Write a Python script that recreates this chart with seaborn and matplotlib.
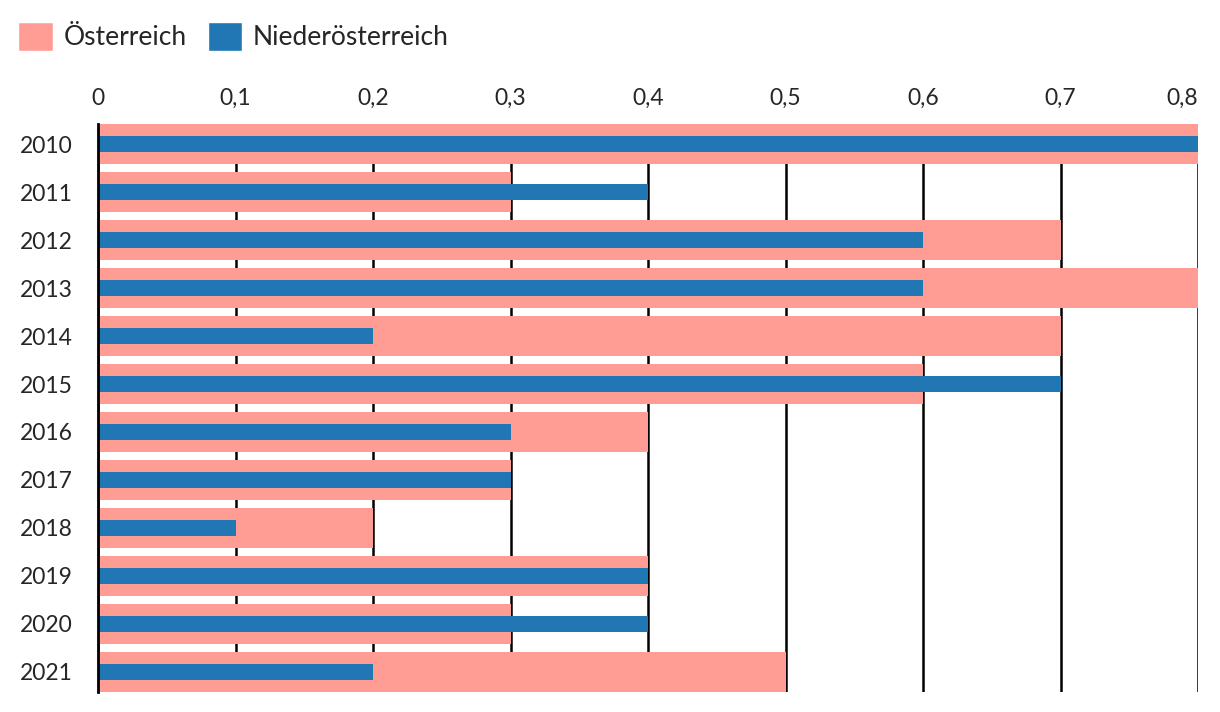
import matplotlib.pyplot as plt
import seaborn as sns
import pandas as pd
from matplotlib.patches import Patch
from matplotlib.ticker import FuncFormatter

years = ["2010", "2011", "2012", "2013", "2014", "2015",
         "2016", "2017", "2018", "2019", "2020", "2021"]
oesterreich = [0.8, 0.3, 0.7, 0.8, 0.7, 0.6, 0.4, 0.3, 0.2, 0.4, 0.3, 0.5]
niederoesterreich = [0.8, 0.4, 0.6, 0.6, 0.2, 0.7, 0.3, 0.3, 0.1, 0.4, 0.4, 0.2]
x_ticks = [0, 0.1, 0.2, 0.3, 0.4, 0.5, 0.6, 0.7, 0.8]

salmon = "#ff9d94"
blue = "#2077b4"

sns.set_style("white")
plt.rcParams["font.family"] = ["Lato", "DejaVu Sans"]

df = pd.DataFrame({"year": years, "at": oesterreich, "noe": niederoesterreich})

fig = plt.figure(figsize=(12.2, 7.12), dpi=100)
ax = fig.add_axes([98 / 1220, 1 - 692 / 712, 1100 / 1220, 568 / 712])

# wide salmon bars behind, narrow blue bars on top
sns.barplot(data=df, x="at", y="year", orient="h", color=salmon,
            width=0.833, saturation=1, linewidth=0, ax=ax, zorder=2)
sns.barplot(data=df, x="noe", y="year", orient="h", color=blue,
            width=0.333, saturation=1, linewidth=0, ax=ax, zorder=3)

ax.set_xlim(0, 0.8)
ax.set_ylim(len(years) - 1 + 0.4167, -0.4167)
ax.set_xticks(x_ticks)
ax.xaxis.set_major_formatter(FuncFormatter(lambda v, p: "0" if v == 0 else f"{v:.1f}".replace(".", ",")))
ax.xaxis.tick_top()
ax.tick_params(axis="x", length=0, pad=11, labelsize=16.5)
ax.tick_params(axis="y", length=0, pad=18, labelsize=16.5)
# last tick label sits inside the plot edge
ax.get_xticklabels()[-1].set_horizontalalignment("right")
ax.set_xlabel("")
ax.set_ylabel("")

ax.grid(axis="x", color="black", linewidth=1.8, zorder=1)
ax.set_axisbelow(True)
for s in ["top", "right", "bottom"]:
    ax.spines[s].set_visible(False)
ax.spines["left"].set_color("black")
ax.spines["left"].set_linewidth(2)
ax.spines["left"].set_zorder(4)

handles = [Patch(facecolor=salmon, label="Österreich"),
           Patch(facecolor=blue, label="Niederösterreich")]
fig.legend(handles=handles, loc="upper left", bbox_to_anchor=(0.0, 0.995),
           ncol=2, frameon=False, fontsize=19, handlelength=1.3, handleheight=1.3,
           handletextpad=0.4, columnspacing=0.8, borderaxespad=0.3)

plt.savefig("out.png", dpi=100, facecolor="white")
